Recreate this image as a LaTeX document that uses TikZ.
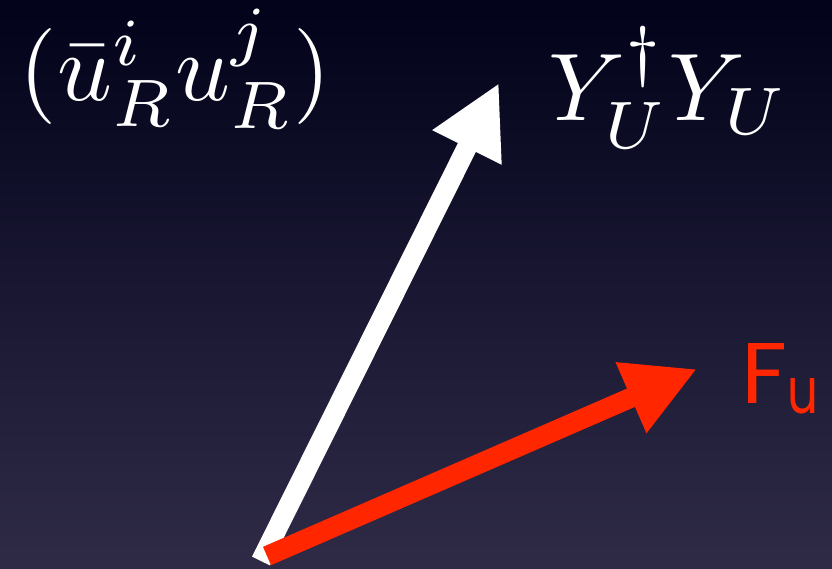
\RequirePackage{fix-cm}
\documentclass[tikz,border=0pt]{standalone}
\usepackage{graphicx}
\usepackage{fontspec}
\newfontfamily\flavfont{Poppins}
\usetikzlibrary{arrows.meta}
\definecolor{bgtop}{HTML}{02021A}
\definecolor{bgmid}{HTML}{181730}
\definecolor{bgbot}{HTML}{2F2B47}
\definecolor{flavred}{HTML}{FF2600}
\tikzset{
  vecarrow/.style = {line width=20pt, -{Triangle[length=72pt,width=72pt]}},
  biglabel/.style = {text=white, inner sep=0pt, anchor=base west, font=\fontsize{10}{12}\selectfont, scale=9.6, transform shape}
}

\begin{document}
\begin{tikzpicture}[x=1pt,y=-1pt]
	\useasboundingbox (0,0) rectangle (832,568);
	\shade[top color=bgtop, middle color=bgmid, bottom color=bgbot] (0,0) rectangle (832,568);
	% labels
	\node[biglabel] (ops) at (18,100) {$(\bar u^i_R u^j_R)$};
	\node[biglabel] (yuk) at (547,120) {$Y_U^\dagger Y_U$};
	\node[inner sep=0pt, anchor=base west, text=flavred, font=\flavfont\fontsize{60}{60}\selectfont] (fu) at (741,403)
		{\resizebox{46pt}{60pt}{F}\raisebox{-10pt}{\resizebox{31pt}{35pt}{u}}};
	% vectors
	\coordinate (o1) at (261,561);
	\coordinate (o2) at (267,556);
	\coordinate (ytip) at (499,83);
	\coordinate (ftip) at (697,369);
	\draw[vecarrow, white] (o1) -- (ytip);
	\draw[vecarrow, flavred] (o2) -- (ftip);
\end{tikzpicture}
\end{document}
